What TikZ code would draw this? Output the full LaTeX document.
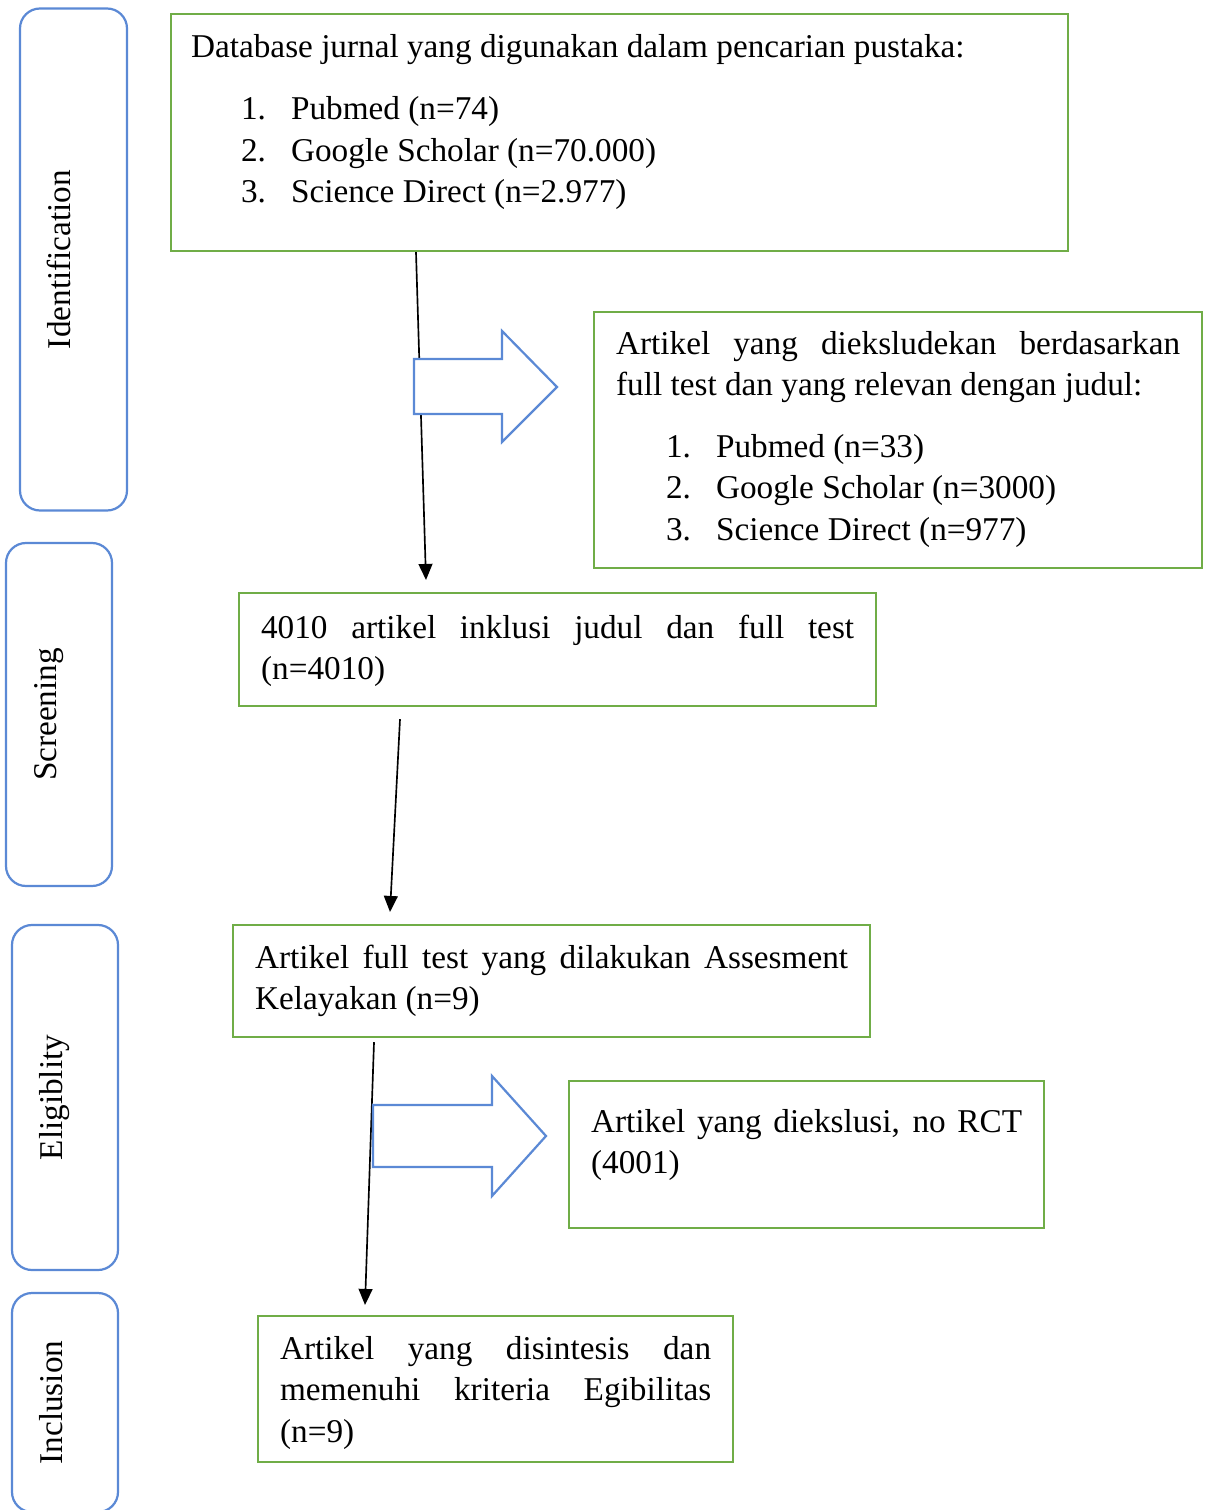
\documentclass[tikz,border=0pt]{standalone}
\usepackage{fontspec}
\setmainfont{Liberation Serif}
\usetikzlibrary{arrows.meta, calc}
\definecolor{prgreen}{RGB}{112,173,71}
\definecolor{prblue}{RGB}{91,137,213}
\newdimen\pxu \pxu=0.361pt
\tolerance=10000 \hbadness=10000 \hyphenpenalty=10000 \exhyphenpenalty=10000
\newcommand{\listrow}[2]{\hspace*{50\pxu}\makebox[50\pxu][l]{#1}#2}

\begin{document}
\begin{tikzpicture}[x=0.361pt, y=-0.361pt,
  gbox/.style={draw=prgreen, line width=0.8pt, anchor=north west, inner xsep=22\pxu, inner ysep=0pt, align=justify, font=\fontsize{12}{15}\selectfont},
  phase/.style={draw=prblue, line width=0.8pt, rounded corners=20\pxu, rotate=90, inner sep=0pt, text height=0pt, text depth=6\pxu, font=\fontsize{12}{15}\selectfont},
  fat/.style={draw=prblue, line width=0.8pt, fill=white},
  arr/.style={-{Triangle[length=5.8pt, width=5pt]}, line width=0.6pt}
]
\useasboundingbox (0,0) rectangle (1208,1510);

% phases on the left
\node[phase, minimum width=502\pxu, minimum height=107\pxu] (ident) at (73.5,259.5) {Identification};
\node[phase, minimum width=343\pxu, minimum height=106\pxu] (screen) at (59,714.5) {Screening};
\node[phase, minimum width=345\pxu, minimum height=106\pxu] (elig) at (65,1097.5) {Eligiblity};
\node[phase, minimum width=219\pxu, minimum height=106\pxu] (incl) at (65,1402.5) {Inclusion};

% flow boxes
\node[gbox, inner xsep=20\pxu, text width=857\pxu, text height=43\pxu, text depth=194\pxu] (db) at (170,13)
  {Database jurnal yang digunakan dalam pencarian pustaka:\\[21\pxu]
   \listrow{1.}{Pubmed (n=74)}\\
   \listrow{2.}{Google Scholar (n=70.000)}\\
   \listrow{3.}{Science Direct (n=2.977)}};
\node[gbox, text width=564\pxu, text height=42\pxu, text depth=214\pxu] (excl1) at (593,311)
  {Artikel yang dieksludekan berdasarkan\linebreak full test dan yang relevan dengan judul:\\[20\pxu]
   \listrow{1.}{Pubmed (n=33)}\\
   \listrow{2.}{Google Scholar (n=3000)}\\
   \listrow{3.}{Science Direct (n=977)}};
\node[gbox, text width=593\pxu, text height=45\pxu, text depth=68\pxu] (incjudul) at (238,592)
  {4010 artikel inklusi judul dan full test\linebreak (n=4010)};
\node[gbox, text width=593\pxu, text height=43\pxu, text depth=69\pxu] (assess) at (232,924)
  {Artikel full test yang dilakukan Assesment\linebreak Kelayakan (n=9)};
\node[gbox, text width=431\pxu, text height=51\pxu, text depth=96\pxu] (excl2) at (568,1080)
  {Artikel yang diekslusi, no RCT\linebreak (4001)};
\node[gbox, text width=431\pxu, text height=43\pxu, text depth=103\pxu] (sintesis) at (257,1315)
  {Artikel yang disintesis dan\linebreak memenuhi kriteria Egibilitas\linebreak (n=9)};

% connectors
\draw[arr] ($(db.south west)+(246,0)$) -- ($(incjudul.north west)+(188,-12)$);
\draw[arr] ($(incjudul.south west)+(162,12)$) -- ($(assess.north west)+(158,-12)$);
\draw[arr] ($(assess.south west)+(142,4)$) -- ($(sintesis.north west)+(108,-10)$);

% block arrows to the excluded boxes
\draw[fat] (414,359) -- (502,359) -- (502,331) -- (557,387) -- (502,442) -- (502,414) -- (414,414) -- cycle;
\draw[fat] (373,1105) -- (492,1105) -- (492,1076) -- (546,1136) -- (492,1196) -- (492,1167) -- (373,1167) -- cycle;
\end{tikzpicture}
\end{document}
